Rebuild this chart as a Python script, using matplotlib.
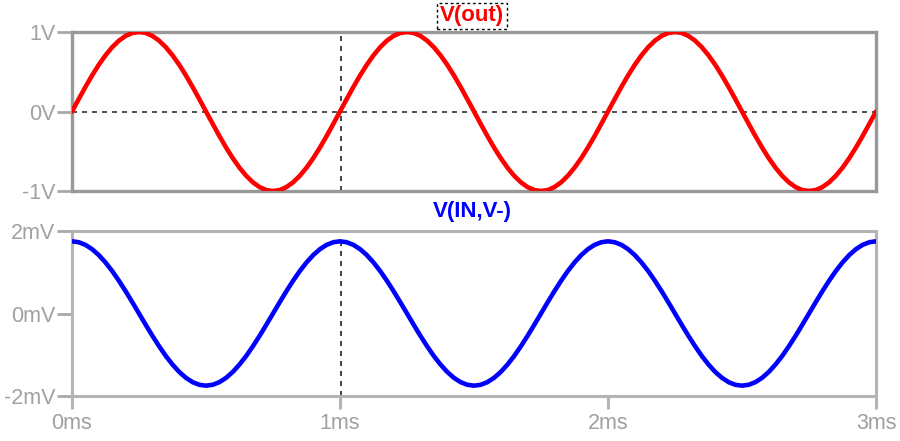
import matplotlib
matplotlib.use("Agg")
import matplotlib.pyplot as plt

# time samples in ms (0.025 ms steps)
time_ms = [round(0.025 * i, 3) for i in range(121)]

# V(out) in volts
vout = [0.0, 0.156, 0.309, 0.454, 0.588, 0.707, 0.809, 0.891, 0.951, 0.988,
        1.0, 0.988, 0.951, 0.891, 0.809, 0.707, 0.588, 0.454, 0.309, 0.156,
        0.0, -0.156, -0.309, -0.454, -0.588, -0.707, -0.809, -0.891, -0.951, -0.988,
        -1.0, -0.988, -0.951, -0.891, -0.809, -0.707, -0.588, -0.454, -0.309, -0.156,
        0.0, 0.156, 0.309, 0.454, 0.588, 0.707, 0.809, 0.891, 0.951, 0.988,
        1.0, 0.988, 0.951, 0.891, 0.809, 0.707, 0.588, 0.454, 0.309, 0.156,
        0.0, -0.156, -0.309, -0.454, -0.588, -0.707, -0.809, -0.891, -0.951, -0.988,
        -1.0, -0.988, -0.951, -0.891, -0.809, -0.707, -0.588, -0.454, -0.309, -0.156,
        0.0, 0.156, 0.309, 0.454, 0.588, 0.707, 0.809, 0.891, 0.951, 0.988,
        1.0, 0.988, 0.951, 0.891, 0.809, 0.707, 0.588, 0.454, 0.309, 0.156,
        0.0, -0.156, -0.309, -0.454, -0.588, -0.707, -0.809, -0.891, -0.951, -0.988,
        -1.0, -0.988, -0.951, -0.891, -0.809, -0.707, -0.588, -0.454, -0.309, -0.156,
        0.0]

# V(IN,V-) in millivolts
vin_mv = [1.75, 1.728, 1.664, 1.559, 1.416, 1.237, 1.029, 0.794, 0.541, 0.274,
          0.0, -0.274, -0.541, -0.794, -1.029, -1.237, -1.416, -1.559, -1.664, -1.728,
          -1.75, -1.728, -1.664, -1.559, -1.416, -1.237, -1.029, -0.794, -0.541, -0.274,
          0.0, 0.274, 0.541, 0.794, 1.029, 1.237, 1.416, 1.559, 1.664, 1.728,
          1.75, 1.728, 1.664, 1.559, 1.416, 1.237, 1.029, 0.794, 0.541, 0.274,
          0.0, -0.274, -0.541, -0.794, -1.029, -1.237, -1.416, -1.559, -1.664, -1.728,
          -1.75, -1.728, -1.664, -1.559, -1.416, -1.237, -1.029, -0.794, -0.541, -0.274,
          0.0, 0.274, 0.541, 0.794, 1.029, 1.237, 1.416, 1.559, 1.664, 1.728,
          1.75, 1.728, 1.664, 1.559, 1.416, 1.237, 1.029, 0.794, 0.541, 0.274,
          0.0, -0.274, -0.541, -0.794, -1.029, -1.237, -1.416, -1.559, -1.664, -1.728,
          -1.75, -1.728, -1.664, -1.559, -1.416, -1.237, -1.029, -0.794, -0.541, -0.274,
          0.0, 0.274, 0.541, 0.794, 1.029, 1.237, 1.416, 1.559, 1.664, 1.728,
          1.75]

x_ticks = [0, 1, 2, 3]
x_labels = ["0ms", "1ms", "2ms", "3ms"]
top_yticks = [-1, 0, 1]
top_ylabels = ["-1V", "0V", "1V"]
bot_yticks = [-2, 0, 2]
bot_ylabels = ["-2mV", "0mV", "2mV"]
cursor_ms = 1.005

label_color = "#a0a0a0"
plt.rcParams["font.family"] = ["Liberation Sans", "DejaVu Sans"]

fig = plt.figure(figsize=(9, 4.41), dpi=100)
ax1 = fig.add_axes([72/900, 1-191/441, 804/900, 159/441])
ax2 = fig.add_axes([72/900, 1-396/441, 804/900, 165/441])

# top panel
ax1.plot(time_ms, vout, color="#ff0000", lw=3.3, solid_capstyle="round",
         solid_joinstyle="round", zorder=3)
ax1.axhline(0, color="#333333", lw=1.2, ls=(0, (3, 3)), zorder=2)
ax1.axvline(cursor_ms, color="#222222", lw=1.2, ls=(0, (3, 3)), zorder=2)
ax1.set_xlim(0, 3)
ax1.set_ylim(-1, 1)
ax1.set_yticks(top_yticks)
ax1.set_yticklabels(top_ylabels)
ax1.set_xticks([])
for s in ax1.spines.values():
    s.set_color("#999999")
    s.set_linewidth(2.4)

# bottom panel
ax2.plot(time_ms, vin_mv, color="#0000ff", lw=3.3, solid_capstyle="round",
         solid_joinstyle="round", zorder=3)
ax2.vlines(cursor_ms, -2, 1.8, color="#222222", lw=1.2, ls=(0, (3, 3)), zorder=2)
ax2.set_xlim(0, 3)
ax2.set_ylim(-2, 2)
ax2.set_yticks(bot_yticks)
ax2.set_yticklabels(bot_ylabels)
ax2.set_xticks(x_ticks)
ax2.set_xticklabels(x_labels)
for s in ax2.spines.values():
    s.set_color("#b4b4b4")
    s.set_linewidth(2.2)

for ax in (ax1, ax2):
    ax.tick_params(axis="y", direction="out", length=11, width=2.0, color="#a8a8a8",
                   labelcolor=label_color, labelsize=15.5, pad=1)
    ax.tick_params(axis="x", direction="out", length=9.5, width=2.2, color="#b4b4b4",
                   labelcolor=label_color, labelsize=15.5, pad=3)

fig.text(472/900, 1-16/441, "V(out)", color="#ff0000", fontsize=16, fontweight="bold",
         ha="center", va="center",
         bbox=dict(boxstyle="square,pad=0.12", fc="white", ec="black", ls=(0, (2, 2)), lw=1))
fig.text(472/900, 1-211/441, "V(IN,V-)", color="#0000ff", fontsize=16, fontweight="bold",
         ha="center", va="center")

fig.savefig("out.png", dpi=100, facecolor="white")
